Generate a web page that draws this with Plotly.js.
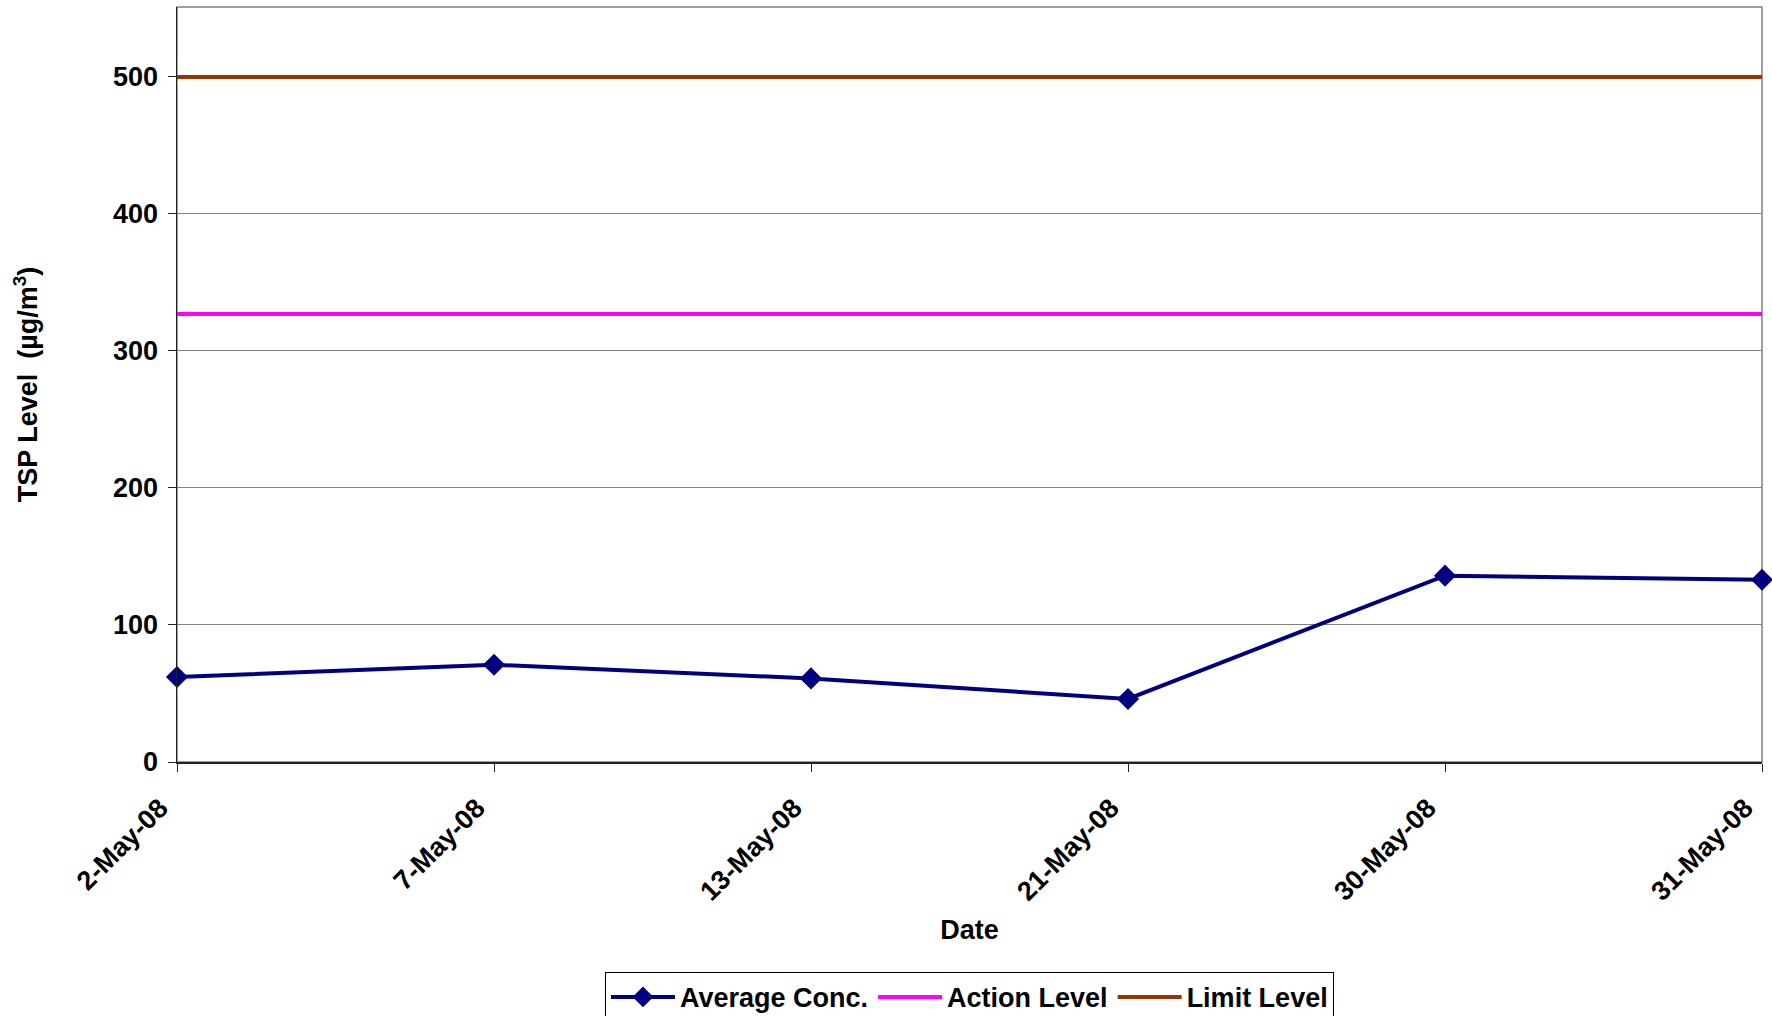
<!DOCTYPE html>
<html>
<head>
<meta charset="utf-8">
<script src="https://cdn.plot.ly/plotly-3.0.1.min.js"></script>
<style>html,body{margin:0;padding:0;background:#fff;}#chart{width:1772px;height:1016px;}</style>
</head>
<body>
<div id="chart"></div>
<script>
const dates = ["2-May-08", "7-May-08", "13-May-08", "21-May-08", "30-May-08", "31-May-08"];
const averageConc = [62, 71, 61, 46, 136, 133];
const actionLevel = [327, 327, 327, 327, 327, 327];
const limitLevel = [500, 500, 500, 500, 500, 500];
const yTicks = [0, 100, 200, 300, 400, 500];

const FONT = "Liberation Sans, Arial, Helvetica, sans-serif";

const traces = [
  {
    x: dates, y: averageConc, name: "Average Conc.", type: "scatter", mode: "lines+markers",
    line: {color: "#000080", width: 4},
    marker: {symbol: "diamond", size: 17, color: "#000080"},
    cliponaxis: false
  },
  {
    x: dates, y: actionLevel, name: "Action Level", type: "scatter", mode: "lines",
    line: {color: "#FF00FF", width: 4}
  },
  {
    x: dates, y: limitLevel, name: "Limit Level", type: "scatter", mode: "lines",
    line: {color: "#993300", width: 4}
  }
];

const layout = {
  width: 1772, height: 1016,
  margin: {l: 177, r: 10, t: 7, b: 254, autoexpand: false},
  paper_bgcolor: "#fff", plot_bgcolor: "#fff",
  font: {family: FONT, size: 27, color: "#000", weight: "bold"},
  showlegend: true,
  legend: {
    orientation: "h", x: 0.5, xanchor: "center", y: -0.278, yanchor: "top",
    bordercolor: "#000", borderwidth: 1,
    font: {family: FONT, size: 27, weight: "bold"},
    itemwidth: 64, tracegroupgap: 0
  },
  xaxis: {
    type: "category", range: [0, 5],
    tickangle: -45,
    showgrid: false, zeroline: false,
    showline: true, linecolor: "#222", linewidth: 1.5,
    ticks: "outside", ticklen: 8, tickcolor: "#222",
    ticklabelstandoff: 10, ticklabelshift: -17,
    tickfont: {family: FONT, size: 27, weight: "bold"},
    title: {text: "Date", font: {family: FONT, size: 27, weight: "bold"}, standoff: 14}
  },
  yaxis: {
    range: [0, 551],
    tickvals: yTicks,
    showgrid: true, gridcolor: "#808080", gridwidth: 1,
    zeroline: false,
    showline: true, linecolor: "#222", linewidth: 1.5,
    ticks: "outside", ticklen: 8, tickcolor: "#222",
    ticklabelstandoff: 4,
    tickfont: {family: FONT, size: 27, weight: "bold"},
    title: {text: "TSP Level  (µg/m<sup>3</sup>)", font: {family: FONT, size: 27, weight: "bold"}, standoff: 67}
  },
  shapes: [
    {type: "rect", xref: "paper", yref: "paper", x0: 0, x1: 1, y0: 0, y1: 1,
     line: {color: "#808080", width: 1.5}, layer: "below"}
  ]
};

Plotly.newPlot("chart", traces, layout, {displayModeBar: false, staticPlot: true});
</script>
</body>
</html>
